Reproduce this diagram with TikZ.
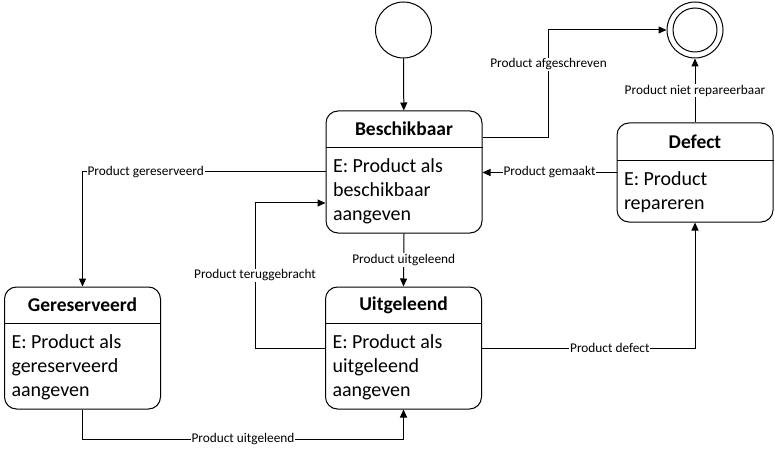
\documentclass[tikz,border=0pt]{standalone}
\usepackage{fontspec}
\setmainfont{Carlito}
\usepackage{tikz}
\usetikzlibrary{positioning, arrows.meta, calc}

\tikzset{
  state/.style={draw, rounded corners=12pt, minimum width=156pt, inner sep=0pt},
  title/.style={font=\fontsize{19.5}{22}\selectfont\bfseries, inner sep=0pt},
  body/.style={font=\fontsize{20}{24}\selectfont, align=left, anchor=north west, inner sep=0pt},
  lbl/.style={font=\fontsize{13.3}{15}\selectfont, fill=white, inner sep=1pt},
  arr/.style={-{Triangle[length=8pt,width=7pt]}},
}

\begin{document}
\begin{tikzpicture}[x=1pt, y=-1pt, line width=1pt]
  \useasboundingbox (0,0) rectangle (775,454);

  % begin- en eindtoestand
  \node[draw, circle, minimum size=56pt] (start) at (403.5,30) {};
  \node[draw, circle, minimum size=56pt] (eind) at (695,30) {};
  \node[draw, circle, minimum size=44pt] (eindin) at (eind) {};

  % toestanden
  \node[state, minimum height=122pt] (besch) at (404,172) {};
  \draw ($(besch.north west)+(0,37)$) -- ($(besch.north east)+(0,37)$);
  \node[title] (beschT) at ($(besch.north)+(0,18.5)$) {Beschikbaar};
  \node[body] (beschB) at ($(besch.north west)+(7,48)$) {E: Product als\\beschikbaar\\aangeven};

  \node[state, minimum height=99pt] (defect) at (695,172.5) {};
  \draw ($(defect.north west)+(0,38)$) -- ($(defect.north east)+(0,38)$);
  \node[title] (defectT) at ($(defect.north)+(0,19)$) {Defect};
  \node[body] (defectB) at ($(defect.north west)+(7,49)$) {E: Product\\repareren};

  \node[state, minimum height=122pt] (geres) at (82.5,348) {};
  \draw ($(geres.north west)+(0,37)$) -- ($(geres.north east)+(0,37)$);
  \node[title] (geresT) at ($(geres.north)+(0,18.5)$) {Gereserveerd};
  \node[body] (geresB) at ($(geres.north west)+(7,48)$) {E: Product als\\gereserveerd\\aangeven};

  \node[state, minimum height=122pt] (uitgel) at (403.5,348) {};
  \draw ($(uitgel.north west)+(0,37)$) -- ($(uitgel.north east)+(0,37)$);
  \node[title] (uitgelT) at ($(uitgel.north)+(0,18.5)$) {Uitgeleend};
  \node[body] (uitgelB) at ($(uitgel.north west)+(7,48)$) {E: Product als\\uitgeleend\\aangeven};

  % overgangen
  \draw[arr] (start) -- (besch);
  \draw[arr] ($(besch.north east)+(0,27)$) -- ++(66,0) |- (eind.west)
    node[lbl, pos=0.34] (afgeschr) {Product afgeschreven};
  \draw[arr] (defect.north) -- (eind.south)
    node[lbl, midway] (nietrep) {Product niet repareerbaar};
  \draw[arr] (defect.west) -- (defect.west -| besch.east)
    node[lbl, midway] (gemaakt) {Product gemaakt};
  \draw[arr] (besch.west) -| (geres.north)
    node[lbl, pos=0.37] (gereserv) {Product gereserveerd};
  \draw[arr] (besch.south) -- (uitgel.north)
    node[lbl, midway] (uitgeleend1) {Product uitgeleend};
  \draw[arr] (uitgel.west) -- ++(-70,0) |- ($(besch.west)+(0,31)$)
    node[lbl, pos=0.25] (terug) {Product teruggebracht};
  \draw[arr] (uitgel.east) -| (defect.south)
    node[lbl, pos=0.3] (kapot) {Product defect};
  \draw[arr] (geres.south) -- ++(0,30) -| (uitgel.south)
    node[lbl, pos=0.25] (uitgeleend2) {Product uitgeleend};
\end{tikzpicture}
\end{document}
